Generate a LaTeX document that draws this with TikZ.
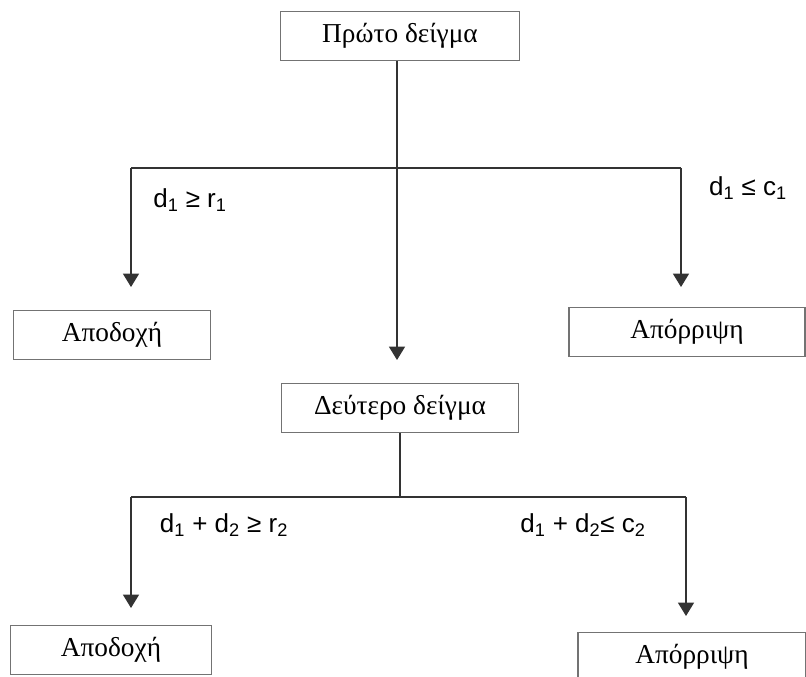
\documentclass[tikz,border=0pt]{standalone}
\usepackage{fontspec}
\setmainfont{Liberation Serif}
\newfontfamily\condfont{Liberation Sans}
\usetikzlibrary{arrows.meta}

\begin{document}
\begin{tikzpicture}[x=0.75pt,y=-0.75pt,
    box/.style={draw=black!55,line width=0.8pt,fill=white,minimum height=36.5pt,inner sep=0pt,font=\fontsize{20.5}{24}\selectfont},
    link/.style={draw=black!80,line width=0.9pt},
    arr/.style={link,-{Triangle[width=12pt,length=10pt]}},
    cond/.style={font=\condfont\fontsize{19.5}{23}\selectfont}]
    \clip (0,0) rectangle (806,677);

    % First sample and its three outcomes
    \node[box,minimum width=179pt] (first) at (400,36) {Πρώτο δείγμα};
    \node[box,minimum width=148pt] (accept1) at (112,335) {Αποδοχή};
    \node[box,minimum width=177pt] (reject1) at (687,332) {Απόρριψη};
    \node[box,minimum width=178pt] (second) at (400,408) {Δεύτερο δείγμα};

    \coordinate (fork1) at (397,168);
    \coordinate (left1) at (131,168);
    \coordinate (right1) at (681,168);
    \coordinate (tipA1) at (131,287);
    \coordinate (tipR1) at (681,287);
    \coordinate (tipS) at (397,360);

    \draw[link] (left1) -- (right1);
    \draw[arr] (first.south -| fork1) -- (tipS);
    \draw[arr] (left1) -- (tipA1);
    \draw[arr] (right1) -- (tipR1);
    \node[cond] (c1) at (190,200) {d\textsubscript{1} ≥ r\textsubscript{1}};
    \node[cond] (c2) at (748,188) {d\textsubscript{1} ≤ c\textsubscript{1}};

    % Second sample
    \node[box,minimum width=151pt] (accept2) at (111,650) {Αποδοχή};
    \node[box,minimum width=171pt] (reject2) at (692,657) {Απόρριψη};

    \coordinate (fork2) at (400,497);
    \coordinate (left2) at (131,497);
    \coordinate (right2) at (686,497);
    \coordinate (tipA2) at (131,608);
    \coordinate (tipR2) at (686,616);

    \draw[link] (second.south) -- (fork2);
    \draw[link] (left2) -- (right2);
    \draw[arr] (left2) -- (tipA2);
    \draw[arr] (right2) -- (tipR2);
    \node[cond] (c3) at (224,525) {d\textsubscript{1} + d\textsubscript{2} ≥ r\textsubscript{2}};
    \node[cond] (c4) at (583,525) {d\textsubscript{1} + d\textsubscript{2}≤ c\textsubscript{2}};
\end{tikzpicture}
\end{document}
